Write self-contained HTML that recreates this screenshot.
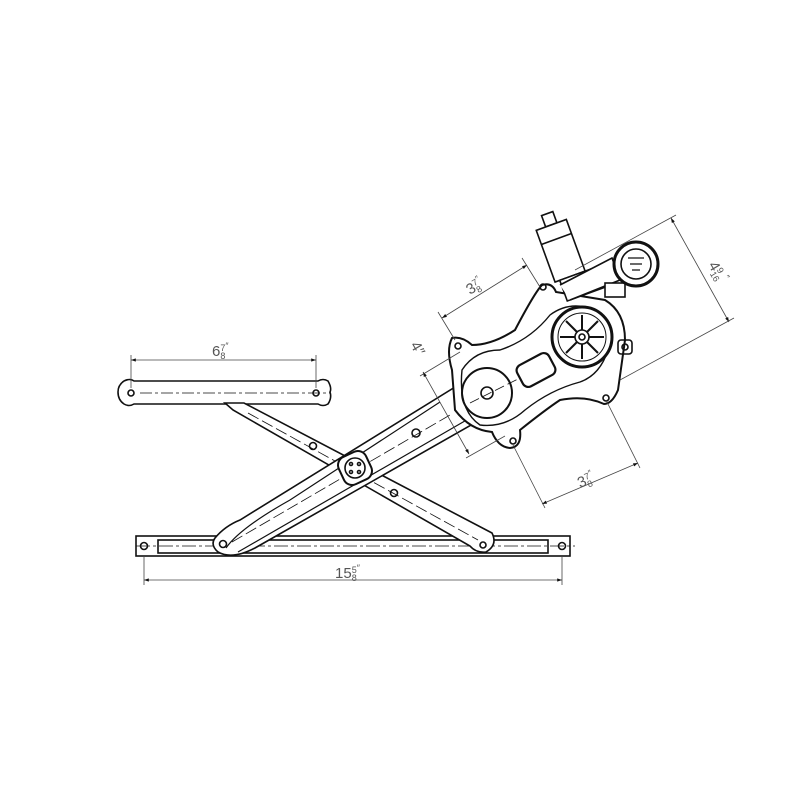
<!DOCTYPE html>
<html><head><style>html,body{margin:0;background:#fff}svg{display:block}</style></head><body>
<svg width="800" height="800" viewBox="0 0 800 800" xmlns="http://www.w3.org/2000/svg" font-family="Liberation Sans, sans-serif">
<defs>
<marker id="a" viewBox="0 0 10 10" refX="10" refY="5" markerWidth="10" markerHeight="6" orient="auto-start-reverse"><path d="M0,1.5L10,5L0,8.5z" fill="#111"/></marker>
</defs>
<g stroke="#111" fill="none" stroke-width="1.6">
<!-- top bar -->
<path d="M124,381 Q130,378 134,381 L318,381 Q323,378 328,381 Q332,388 330,392 Q332,398 328,404 Q323,407 318,404 L134,404 Q129,407 124,404 Q118,400 118,392 Q118,385 124,381Z" fill="#fff"/>
<circle cx="131" cy="393" r="3"/><circle cx="316" cy="393" r="3"/>
<line x1="140" y1="393" x2="330" y2="393" stroke-width="0.8" stroke-dasharray="12,3,3,3"/>
<!-- bottom rail -->
<rect x="136" y="536" width="434" height="20" fill="#fff"/>
<rect x="158" y="540" width="390" height="13"/>
<circle cx="144" cy="546" r="3.5"/><circle cx="562" cy="546" r="3.5"/>
<line x1="136" y1="546" x2="575" y2="546" stroke-width="0.8" stroke-dasharray="14,3,3,3"/>
<!-- arm B -->
<path d="M225,403 L244,403 L492,533 Q498,545 486,552 Q476,553 470,546 L233,410Z" fill="#fff"/>
<line x1="248" y1="413" x2="478" y2="540" stroke-width="0.8" stroke-dasharray="12,4"/>
<circle cx="313" cy="446" r="3.5"/><circle cx="394" cy="493" r="3.5"/>
<circle cx="483" cy="545" r="3"/>
<!-- arm A -->
<path d="M215,538 Q225,526 240,520 L460,384 L480,420 L255,548 Q232,560 218,552 Q210,545 215,538Z" fill="#fff"/>
<path d="M226,548 Q240,528 290,500 L440,402" stroke-width="1.2"/>
<path d="M238,552 L470,418" stroke-width="1.2"/>
<line x1="232" y1="542" x2="450" y2="415" stroke-width="0.8" stroke-dasharray="12,4"/>
<circle cx="223" cy="544" r="3.5"/>
<circle cx="416" cy="433" r="4"/>
<rect x="340" y="453" width="30" height="30" rx="9" transform="rotate(-25 355 468)" fill="#fff" stroke-width="2"/>
<circle cx="355" cy="468" r="10"/>
<circle cx="351" cy="464" r="1.5"/><circle cx="359" cy="464" r="1.5"/><circle cx="351" cy="472" r="1.5"/><circle cx="359" cy="472" r="1.5"/>
<!-- plate -->
<path d="M452,338 Q462,336 472,345 Q492,345 515,330 Q535,292 542,285 Q552,282 556,292 L605,300 Q625,312 625,340 L618,390 Q612,404 604,404 Q585,395 560,400 Q545,410 520,430 Q522,447 510,448 Q498,447 492,432 Q470,430 455,410 L452,370 Q446,350 452,338Z" fill="#fff" stroke-width="2"/>
<path d="M462,370 Q475,350 500,350 Q530,340 550,315 Q570,300 595,310 Q612,325 608,350 Q600,375 580,382 Q550,390 525,410 Q505,428 480,425 Q458,410 462,370Z" stroke-width="1.4"/>
<circle cx="487" cy="393" r="25" stroke-width="2"/>
<circle cx="487" cy="393" r="6"/>
<line x1="470" y1="403" x2="520" y2="378" stroke-width="0.8" stroke-dasharray="10,4"/>
<rect x="518" y="358" width="36" height="24" rx="6" transform="rotate(-28 536 370)" stroke-width="2.2"/>
<circle cx="458" cy="346" r="3"/><circle cx="543" cy="287" r="3"/><circle cx="513" cy="441" r="3"/><circle cx="606" cy="398" r="3"/>
<!-- gear -->
<circle cx="582" cy="337" r="30" stroke-width="3" fill="#fff"/>
<circle cx="582" cy="337" r="24" stroke-width="1"/>
<g stroke-width="2"><line x1="560" y1="337" x2="604" y2="337"/><line x1="582" y1="315" x2="582" y2="359"/><line x1="566" y1="321" x2="598" y2="353"/><line x1="566" y1="353" x2="598" y2="321"/></g>
<circle cx="582" cy="337" r="7" fill="#fff"/><circle cx="582" cy="337" r="3"/>
<rect x="618" y="340" width="14" height="14" rx="3"/><circle cx="625" cy="347" r="3"/>
<!-- motor -->
<g transform="rotate(-20 570 250)">
<rect x="555" y="208" width="12" height="12" fill="#fff"/>
<rect x="545" y="220" width="32" height="55" fill="#fff"/>
<line x1="545" y1="235" x2="577" y2="235"/>
<rect x="550" y="275" width="40" height="22" fill="#fff"/>
</g>
<path d="M560,285 L612,258 L620,280 L570,300" fill="#fff"/>
<rect x="605" y="283" width="20" height="14" fill="#fff"/>
<circle cx="636" cy="264" r="22" stroke-width="3" fill="#fff"/>
<circle cx="636" cy="264" r="15"/>
<path d="M628,258 h16 M630,264 h12 M632,270 h8" stroke-width="1.2"/>
</g>
<!-- dimensions -->
<g stroke="#444" stroke-width="0.8" fill="none">
<line x1="131" y1="360" x2="316" y2="360" marker-start="url(#a)" marker-end="url(#a)"/>
<line x1="131" y1="355" x2="131" y2="388"/><line x1="316" y1="355" x2="316" y2="388"/>
<line x1="144" y1="580" x2="562" y2="580" marker-start="url(#a)" marker-end="url(#a)"/>
<line x1="144" y1="556" x2="144" y2="585"/><line x1="562" y1="556" x2="562" y2="585"/>
<line x1="442" y1="318" x2="527" y2="265" marker-start="url(#a)" marker-end="url(#a)"/>
<line x1="438" y1="312" x2="455" y2="340"/><line x1="522" y1="258" x2="540" y2="287"/>
<line x1="423" y1="372" x2="469" y2="454" marker-start="url(#a)" marker-end="url(#a)"/>
<line x1="420" y1="376" x2="460" y2="352"/><line x1="466" y1="458" x2="505" y2="436"/>
<line x1="542" y1="504" x2="638" y2="463" marker-start="url(#a)" marker-end="url(#a)"/>
<line x1="513" y1="445" x2="545" y2="508"/><line x1="606" y1="400" x2="640" y2="468"/>
<line x1="671" y1="218" x2="729" y2="322" marker-start="url(#a)" marker-end="url(#a)"/>
<line x1="575" y1="270" x2="676" y2="215"/><line x1="620" y1="380" x2="734" y2="318"/>
</g>
<g fill="#555" font-size="15">
<text x="212" y="356">6<tspan font-size="9" dy="-5">7</tspan><tspan font-size="9" dx="-5" dy="8">8</tspan><tspan font-size="9" dy="-10">″</tspan></text>
<text x="335" y="578">15<tspan font-size="9" dy="-5">5</tspan><tspan font-size="9" dx="-5" dy="8">8</tspan><tspan font-size="9" dy="-10">″</tspan></text>
<text transform="translate(470,295) rotate(-32)">3<tspan font-size="9" dy="-5">7</tspan><tspan font-size="9" dx="-5" dy="8">8</tspan><tspan font-size="9" dy="-10">″</tspan></text>
<text transform="translate(580,488) rotate(-23)">3<tspan font-size="9" dy="-5">7</tspan><tspan font-size="9" dx="-5" dy="8">8</tspan><tspan font-size="9" dy="-10">″</tspan></text>
<text transform="translate(410,345) rotate(60)">4″</text>
<text transform="translate(708,265) rotate(60)">4<tspan font-size="9" dy="-5">9</tspan><tspan font-size="9" dx="-5" dy="8">16</tspan><tspan font-size="9" dy="-10">″</tspan></text>
</g>
</svg>
</body></html>
